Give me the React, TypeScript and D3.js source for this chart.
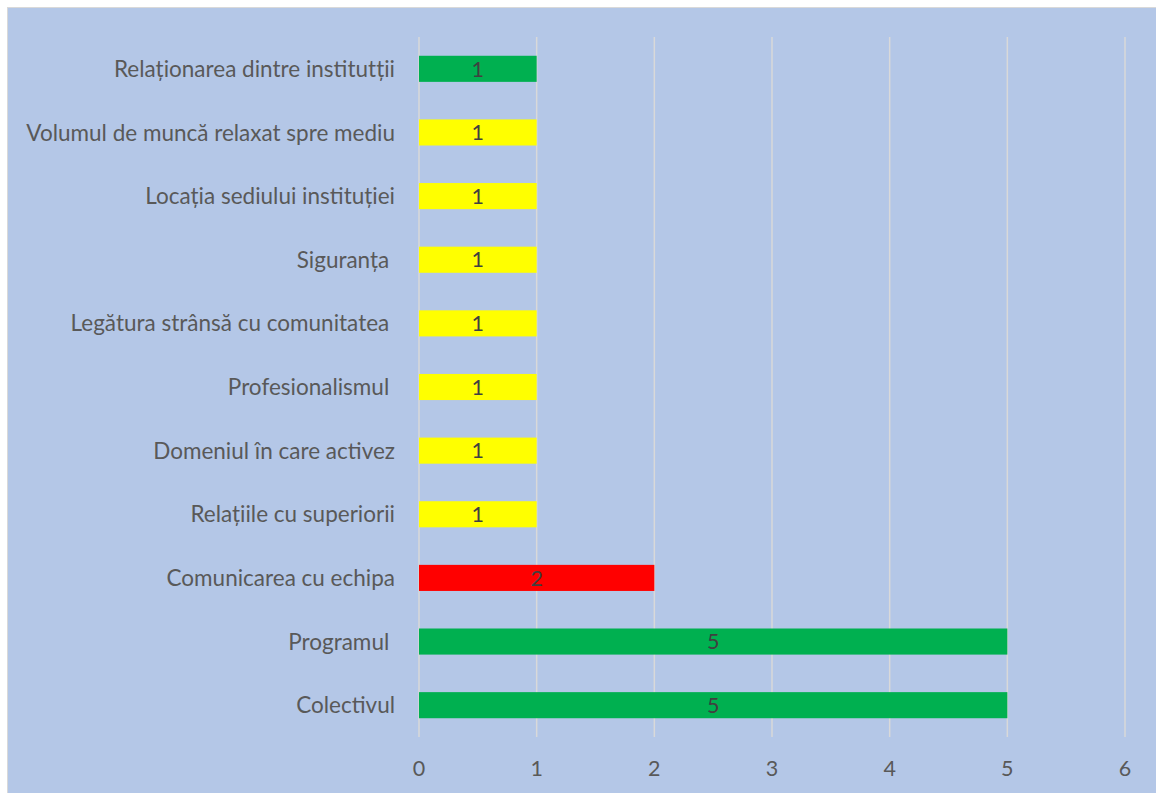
import React from "react";
import * as d3 from "d3";

const categories: string[] = [
  "Relaționarea dintre institutții",
  "Volumul de muncă relaxat spre mediu",
  "Locația sediului instituției",
  "Siguranța ",
  "Legătura strânsă cu comunitatea ",
  "Profesionalismul ",
  "Domeniul în care activez",
  "Relațiile cu superiorii",
  "Comunicarea cu echipa",
  "Programul ",
  "Colectivul",
];
const values: number[] = [1, 1, 1, 1, 1, 1, 1, 1, 2, 5, 5];
const barColors: string[] = [
  "#00b050", "#ffff00", "#ffff00", "#ffff00", "#ffff00", "#ffff00",
  "#ffff00", "#ffff00", "#ff0000", "#00b050", "#00b050",
];
const xTicks: number[] = [0, 1, 2, 3, 4, 5, 6];

const W = 1156;
const H = 793;
const FONT = "Lato, 'Open Sans', sans-serif";

export default function App() {
  const x = d3.scaleLinear().domain([0, 6]).range([419, 1125]);
  const y = d3
    .scaleBand<string>()
    .domain(categories)
    .range([37, 737])
    .paddingInner(0.59)
    .paddingOuter(0.295);

  return (
    <svg
      width={W}
      height={H}
      style={{ position: "absolute", left: 0, top: 0, display: "block" }}
    >
      <rect x={0} y={0} width={W} height={H} fill="#ffffff" />
      <rect
        x={7.5}
        y={7.5}
        width={W}
        height={H}
        fill="#b4c7e7"
        stroke="#d9d9d9"
        strokeWidth={1}
      />
      {xTicks.map((t) => (
        <line
          key={"g" + t}
          x1={x(t)}
          x2={x(t)}
          y1={37}
          y2={737}
          stroke="#d9d9d9"
          strokeWidth={1.5}
        />
      ))}
      {categories.map((c, i) => (
        <g key={c}>
          <rect
            x={x(0)}
            y={y(c)!}
            width={x(values[i]) - x(0)}
            height={y.bandwidth()}
            fill={barColors[i]}
          />
          <text
            x={(x(0) + x(values[i])) / 2}
            y={y(c)! + y.bandwidth() / 2}
            dy="0.36em"
            textAnchor="middle"
            fontFamily={FONT}
            fontSize={21.5}
            fill="#404040"
          >
            {values[i]}
          </text>
          <text
            x={395}
            y={y(c)! + y.bandwidth() / 2}
            dy="0.36em"
            textAnchor="end"
            fontFamily={FONT}
            fontSize={22.5}
            fill="#595959"
            style={{ whiteSpace: "pre" }}
          >
            {c}
          </text>
        </g>
      ))}
      {xTicks.map((t) => (
        <text
          key={"t" + t}
          x={x(t)}
          y={768}
          dy="0.36em"
          textAnchor="middle"
          fontFamily={FONT}
          fontSize={21.5}
          fill="#595959"
        >
          {t}
        </text>
      ))}
    </svg>
  );
}
